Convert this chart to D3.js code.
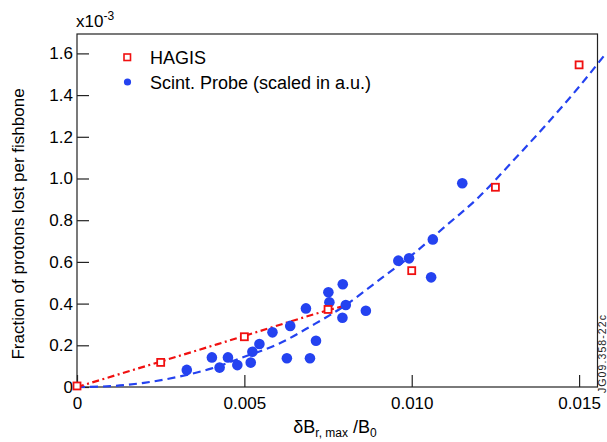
<!DOCTYPE html>
<html><head><meta charset="utf-8">
<script src="https://cdn.jsdelivr.net/npm/d3@7/dist/d3.min.js"></script>
<style>body{margin:0;background:#fff}svg{display:block;font-family:"Liberation Sans",Arial,sans-serif}</style>
</head><body><svg id="c" width="607" height="442"></svg>
<script>
// x: δB_r,max/B0 ; y: fraction lost (units of 1e-3)
const hagisX = [0, 0.0025, 0.005, 0.0075, 0.010, 0.0125, 0.015];
const hagisY = [0.005, 0.118, 0.241, 0.372, 0.558, 0.958, 1.545];
const probeX = [0.00328,0.00403,0.00426,0.00451,0.00479,0.00519,0.00524,0.00545,0.00584,0.00627,0.00637,0.00684,0.00696,0.00714,0.00751,0.00754,0.00793,0.00794,0.00803,0.00863,0.00960,0.00992,0.01058,0.01063,0.01151];
const probeY = [0.082,0.142,0.093,0.142,0.105,0.117,0.169,0.206,0.262,0.138,0.293,0.377,0.138,0.222,0.454,0.406,0.332,0.493,0.393,0.366,0.606,0.617,0.526,0.708,0.977];
const fitRedX = [0, 0.0025, 0.005, 0.0075, 0.0080];
const fitRedY = [0, 0.122, 0.245, 0.368, 0.390];
const fitBlueX = [0,0.001,0.002,0.003,0.004,0.005,0.006,0.007,0.008,0.009,0.010,0.011,0.012,0.013,0.014,0.015,0.0158];
const fitBlueY = [0,0.004,0.02,0.048,0.088,0.145,0.205,0.293,0.39,0.51,0.632,0.77,0.91,1.08,1.255,1.44,1.6];
const xTicks = [0, 0.005, 0.010, 0.015];
const xTickLabels = ["0", "0.005", "0.010", "0.015"];
const yTicks = [0,0.2,0.4,0.6,0.8,1.0,1.2,1.4,1.6];
const yTickLabels = ["0","0.2","0.4","0.6","0.8","1.0","1.2","1.4","1.6"];

const svg = d3.select("#c");
const L=77, T=34, R=597.5, B=387;
const x = d3.scaleLinear().domain([0,0.01555]).range([L,R]);
const y = d3.scaleLinear().domain([0,1.693]).range([B,T]);
const red="#f01010", blue="#2442f0", axc="#222";

// frame
svg.append("rect").attr("x",L).attr("y",T).attr("width",R-L).attr("height",B-T)
  .attr("fill","none").attr("stroke",axc).attr("stroke-width",1.2);

// axes
const xa = svg.append("g").attr("transform",`translate(0,${B})`)
  .call(d3.axisBottom(x).tickValues(xTicks).tickSize(-12).tickPadding(6).tickFormat((d,i)=>xTickLabels[i]));
const ya = svg.append("g").attr("transform",`translate(${L},0)`)
  .call(d3.axisLeft(y).tickValues(yTicks).tickSize(-12).tickPadding(4).tickFormat((d,i)=>yTickLabels[i]));
[xa,ya].forEach(g=>{
  g.select(".domain").remove();
  g.selectAll("line").attr("stroke",axc).attr("stroke-width",1.2);
  g.selectAll("text").attr("font-size",17).attr("fill","#000").attr("font-family","Liberation Sans, Arial, sans-serif");
});
xa.selectAll("text").attr("dy","0.95em");

// curves
const line = d3.line().x(d=>x(d[0])).y(d=>y(d[1])).curve(d3.curveMonotoneX);
svg.append("path").datum(fitBlueX.map((v,i)=>[v,fitBlueY[i]]))
  .attr("d",line).attr("fill","none").attr("stroke",blue).attr("stroke-width",2.2).attr("stroke-dasharray","8,5");
svg.append("path").datum(fitRedX.map((v,i)=>[v,fitRedY[i]]))
  .attr("d",line).attr("fill","none").attr("stroke",red).attr("stroke-width",2.2).attr("stroke-dasharray","7,3.5,2,3.5");

// points
svg.append("g").selectAll("circle").data(probeX.map((v,i)=>[v,probeY[i]])).join("circle")
  .attr("cx",d=>x(d[0])).attr("cy",d=>y(d[1])).attr("r",5.3).attr("fill",blue);
svg.append("g").selectAll("rect").data(hagisX.map((v,i)=>[v,hagisY[i]])).join("rect")
  .attr("x",d=>x(d[0])-3.5).attr("y",d=>y(d[1])-3.5).attr("width",7).attr("height",7)
  .attr("fill","#fff").attr("stroke",red).attr("stroke-width",1.8);

// legend
svg.append("rect").attr("x",124).attr("y",54).attr("width",6.5).attr("height",6.5)
  .attr("fill","#fff").attr("stroke",red).attr("stroke-width",1.6);
svg.append("circle").attr("cx",127.5).attr("cy",82).attr("r",3.6).attr("fill",blue);
svg.append("text").attr("x",150).attr("y",63.5).attr("font-size",18).text("HAGIS");
svg.append("text").attr("x",150).attr("y",88.5).attr("font-size",18).text("Scint. Probe (scaled in a.u.)");

// exponent
const ex = svg.append("text").attr("x",76).attr("y",27).attr("font-size",17);
ex.append("tspan").text("x10");
ex.append("tspan").attr("font-size",12).attr("dy",-7).text("-3");

// axis titles
svg.append("text").attr("transform","translate(24,224) rotate(-90)").attr("text-anchor","middle")
  .attr("font-size",17).text("Fraction of protons lost per fishbone");
const xl = svg.append("text").attr("x",335).attr("y",432.5).attr("text-anchor","middle").attr("font-size",18);
xl.append("tspan").text("δB");
xl.append("tspan").attr("font-size",12).attr("dy",4).text("r, max");
xl.append("tspan").attr("dy",-4).text(" /B");
xl.append("tspan").attr("font-size",12).attr("dy",4).text("0");

// side id
svg.append("text").attr("transform","translate(606,393) rotate(-90)").attr("font-size",10.5)
  .attr("textLength",78).attr("fill","#222").text("JG09.358-22c");
</script></body></html>
